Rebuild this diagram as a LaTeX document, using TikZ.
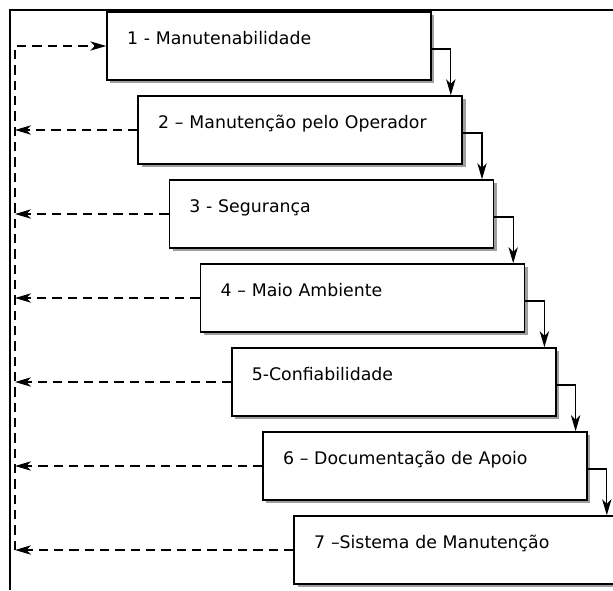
\documentclass[tikz,border=0pt]{standalone}
\usepackage{fontspec}
\setmainfont{DejaVu Sans}
\usepackage{tikz}
\usetikzlibrary{arrows.meta, positioning, shadows}

\begin{document}
\begin{tikzpicture}[
    x=0.75pt, y=-0.75pt,
    etapa/.style={draw, rectangle, fill=white, line width=1.2pt, minimum height=51pt,
      text width=213pt, inner xsep=15pt, align=left, text height=9pt, text depth=11pt,
      font=\fontsize{13}{15}\selectfont,
      drop shadow={shadow xshift=2.5pt, shadow yshift=-2.5pt, fill=gray!75, opacity=1}},
    fluxo/.style={-{Stealth[length=12pt, width=7pt, inset=3.5pt]}, line width=1pt},
    retorno/.style={-{Stealth[length=12pt, width=7pt, inset=3.5pt]}, line width=1pt, dash pattern=on 7pt off 4.5pt},
    moldura/.style={line width=1.1pt},
]
  \useasboundingbox (0,0) rectangle (613,590);

  % moldura
  \draw[moldura] (10,590) -- (10,10) -- (613,10);

  \node[etapa] (b1) at (269.0, 46) {1 - Manutenabilidade};
  \node[etapa] (b2) at (300.2,130) {2 – Manutenção pelo Operador};
  \node[etapa] (b3) at (331.4,214) {3 - Segurança};
  \node[etapa] (b4) at (362.6,298) {4 – Maio Ambiente};
  \node[etapa] (b5) at (393.8,382) {5-Confiabilidade};
  \node[etapa] (b6) at (425.0,466) {6 – Documentação de Apoio};
  \node[etapa] (b7) at (456.2,550) {7 –Sistema de Manutenção};

  \coordinate (eixo) at (15,46);

  \draw[fluxo] ([yshift=-2.25pt]b1.east) -| ([xshift=14.25pt]b1.east |- b2.north);
  \draw[fluxo] ([yshift=-2.25pt]b2.east) -| ([xshift=14.25pt]b2.east |- b3.north);
  \draw[fluxo] ([yshift=-2.25pt]b3.east) -| ([xshift=14.25pt]b3.east |- b4.north);
  \draw[fluxo] ([yshift=-2.25pt]b4.east) -| ([xshift=14.25pt]b4.east |- b5.north);
  \draw[fluxo] ([yshift=-2.25pt]b5.east) -| ([xshift=14.25pt]b5.east |- b6.north);
  \draw[fluxo] ([yshift=-2.25pt]b6.east) -| ([xshift=14.25pt]b6.east |- b7.north);

  \draw[retorno] (eixo |- b7.west) -- (eixo |- b1.west) -- (b1.west);
  \draw[retorno] (b2.west) -- (eixo |- b2.west);
  \draw[retorno] (b3.west) -- (eixo |- b3.west);
  \draw[retorno] (b4.west) -- (eixo |- b4.west);
  \draw[retorno] (b5.west) -- (eixo |- b5.west);
  \draw[retorno] (b6.west) -- (eixo |- b6.west);
  \draw[retorno] (b7.west) -- (eixo |- b7.west);
\end{tikzpicture}
\end{document}
